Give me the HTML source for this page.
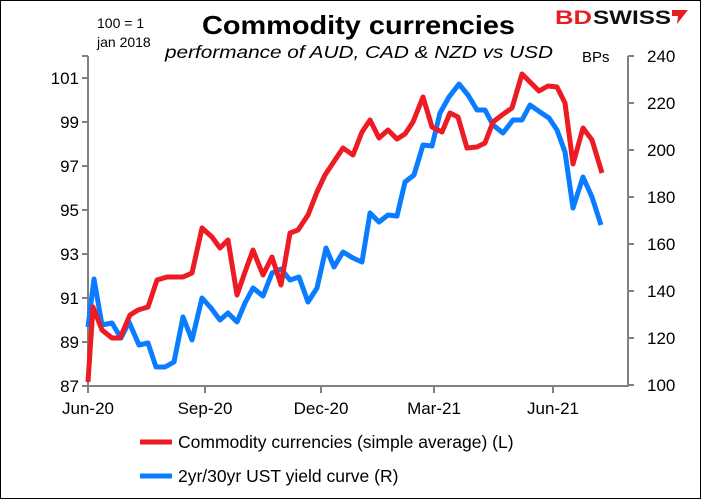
<!DOCTYPE html>
<html><head><style>
body{margin:0;background:#fff}
svg{display:block}
text{font-family:"Liberation Sans",sans-serif}
</style></head><body>
<svg width="701" height="499" viewBox="0 0 701 499" xmlns="http://www.w3.org/2000/svg">
<rect x="0.5" y="0.5" width="700" height="498" fill="#fff" stroke="#000" stroke-width="1"/>
<text x="202" y="34" font-size="26" font-weight="bold" textLength="313" lengthAdjust="spacingAndGlyphs">Commodity currencies</text>
<text x="165" y="58" font-size="17.5" font-style="italic" textLength="388" lengthAdjust="spacingAndGlyphs">performance of AUD, CAD &amp; NZD vs USD</text>
<text x="97" y="28" font-size="14">100 = 1</text>
<text x="97" y="47" font-size="14">jan 2018</text>
<text x="582" y="62" font-size="15">BPs</text>
<text x="555" y="24" font-size="19" font-weight="bold" fill="#e31e24" textLength="37" lengthAdjust="spacingAndGlyphs">BD</text>
<text x="593" y="24" font-size="19" font-weight="bold" fill="#111" textLength="78" lengthAdjust="spacingAndGlyphs">SWISS</text>
<path d="M672 10 L688 10 L677 24 L678 16 L672 16 Z" fill="#e31e24"/>
<g stroke="#808080" stroke-width="2" fill="none">
<path d="M88 56 V386 H628 V56"/>
<path d="M82 56H88M82 78H88M82 122H88M82 166H88M82 210H88M82 254H88M82 298H88M82 342H88M82 386H88"/>
<path d="M628 56H634M628 103H634M628 150H634M628 197H634M628 244H634M628 291H634M628 338H634M628 385H634"/>
<path d="M88 386V393M205 386V393M321 386V393M434 386V393M553 386V393"/>
</g>
<g font-size="17" text-anchor="end">
<text x="79" y="84">101</text><text x="79" y="128">99</text><text x="79" y="172">97</text><text x="79" y="216">95</text><text x="79" y="260">93</text><text x="79" y="304">91</text><text x="79" y="348">89</text><text x="79" y="392">87</text>
</g>
<g font-size="17">
<text x="647" y="62">240</text><text x="647" y="109">220</text><text x="647" y="156">200</text><text x="647" y="203">180</text><text x="647" y="250">160</text><text x="647" y="297">140</text><text x="647" y="344">120</text><text x="647" y="391">100</text>
</g>
<g font-size="17" text-anchor="middle">
<text x="88" y="414">Jun-20</text><text x="205" y="414">Sep-20</text><text x="321" y="414">Dec-20</text><text x="434" y="414">Mar-21</text><text x="553" y="414">Jun-21</text>
</g>
<g fill="none" stroke-width="5" stroke-linejoin="round">
<polyline stroke="#0a7cff" points="88,327 94,279 102,325 112,323 121,338 129,322 139,345 148,343 156,367 165,367 174,362 183,317 192,340 202,298 211,308 220,320 228,313 237,322 245,303 253,288 263,296 272,273 281,269 290,280 299,277 308,302 317,288 326,248 334,267 343,252 353,258 362,262 370,213 379,222 388,215 397,216 405,182 414,175 423,145 432,146 440,113 449,97 459,84 468,95 477,110 485,110 493,125 503,133 513,120 522,120 530,105 540,112 549,118 557,130 565,152 573,208 583,177 592,197 601,225"/>
<polyline stroke="#ed1c24" points="88,382 93,307 102,330 112,338 120,338 130,315 138,310 148,307 157,280 167,277 183,277 192,273 202,228 212,237 220,248 228,240 237,295 245,272 253,250 263,275 272,257 281,285 290,233 298,230 308,215 317,192 325,175 335,160 343,148 353,155 362,132 370,120 379,138 388,130 397,139 405,134 413,122 423,97 432,127 442,132 450,113 458,117 467,148 477,147 485,143 493,122 502,115 512,108 522,74 530,82 539,91 548,86 557,87 565,103 573,164 583,128 592,140 602,173"/>
<line x1="140" y1="442" x2="172" y2="442" stroke="#ed1c24"/>
<line x1="140" y1="476" x2="172" y2="476" stroke="#0a7cff"/>
</g>
<text x="178" y="448" font-size="17.5">Commodity currencies (simple average) (L)</text>
<text x="178" y="482" font-size="17.5">2yr/30yr UST yield curve (R)</text>
</svg>
</body></html>
